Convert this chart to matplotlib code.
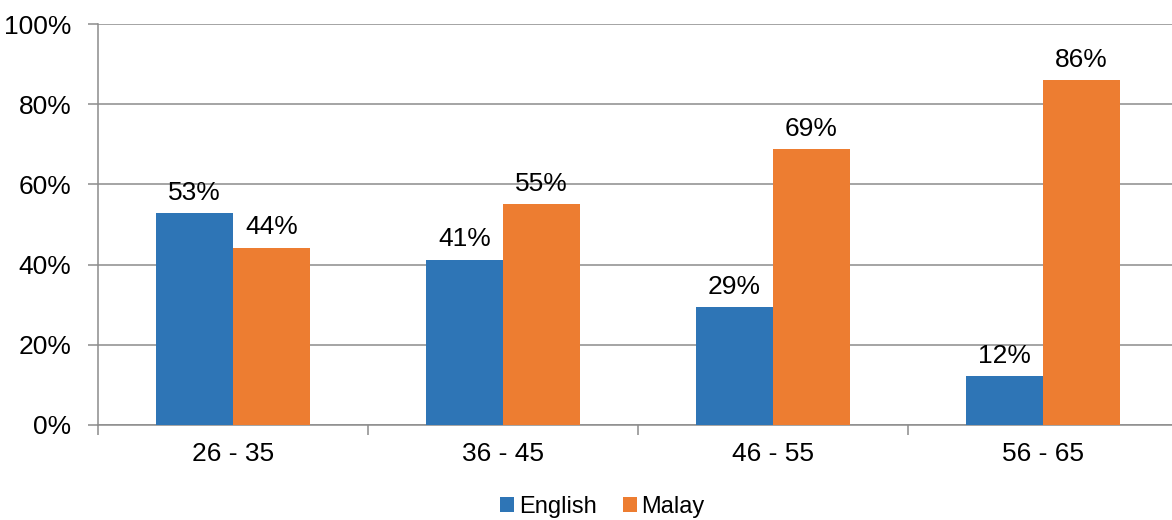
import matplotlib.pyplot as plt
import numpy as np

plt.rcParams['font.family'] = ['Liberation Sans', 'DejaVu Sans']

# data
categories = ['26 - 35', '36 - 45', '46 - 55', '56 - 65']
english = [53, 41, 29, 12]
malay = [44, 55, 69, 86]
english_heights = [52.75, 41.25, 29.4, 12.25]
malay_heights = [44.2, 55.0, 68.75, 86.0]

blue = '#2E75B6'
orange = '#ED7D31'
grid_gray = '#8C8C8C'

fig = plt.figure(figsize=(11.72, 5.2), dpi=100)
ax = fig.add_axes([98 / 1172, 1 - 425 / 520, 1080 / 1172, (425 - 24) / 520])

x = np.arange(len(categories))
w = 0.285
b1 = ax.bar(x - w / 2, english_heights, w, color=blue, label='English', zorder=3)
b2 = ax.bar(x + w / 2, malay_heights, w, color=orange, label='Malay', zorder=3)

for bars, vals in [(b1, english), (b2, malay)]:
    for rect, v in zip(bars, vals):
        ax.annotate(f'{v}%', (rect.get_x() + rect.get_width() / 2, rect.get_height()),
                    xytext=(0, 6), textcoords='offset points',
                    ha='center', va='bottom', fontsize=19, color='#000000')

ax.set_ylim(0, 100)
ax.set_xlim(-0.5, len(categories) - 0.5)
ax.set_yticks(range(0, 101, 20))
ax.set_yticklabels([f'{v}%' for v in range(0, 101, 20)], fontsize=19)
ax.yaxis.grid(True, color=grid_gray, linewidth=1.1, zorder=0)

ax.set_xticks(x)
ax.set_xticklabels(categories, fontsize=19)
ax.set_xticks(np.arange(-0.5, len(categories)), minor=True)
ax.tick_params(axis='x', which='major', length=0, pad=12)
ax.tick_params(axis='x', which='minor', length=7, color=grid_gray, width=1.1)
ax.tick_params(axis='y', length=7, color=grid_gray, width=1.1, pad=12)

for s in ['top', 'right']:
    ax.spines[s].set_visible(False)
for s in ['left', 'bottom']:
    ax.spines[s].set_color(grid_gray)
    ax.spines[s].set_linewidth(1.1)

ax.legend(loc='center', bbox_to_anchor=(0.467, -0.204), ncol=2, frameon=False,
          fontsize=17, handlelength=0.6, handleheight=0.6, handletextpad=0.2,
          columnspacing=1.1)

fig.savefig('out.png', dpi=100)
